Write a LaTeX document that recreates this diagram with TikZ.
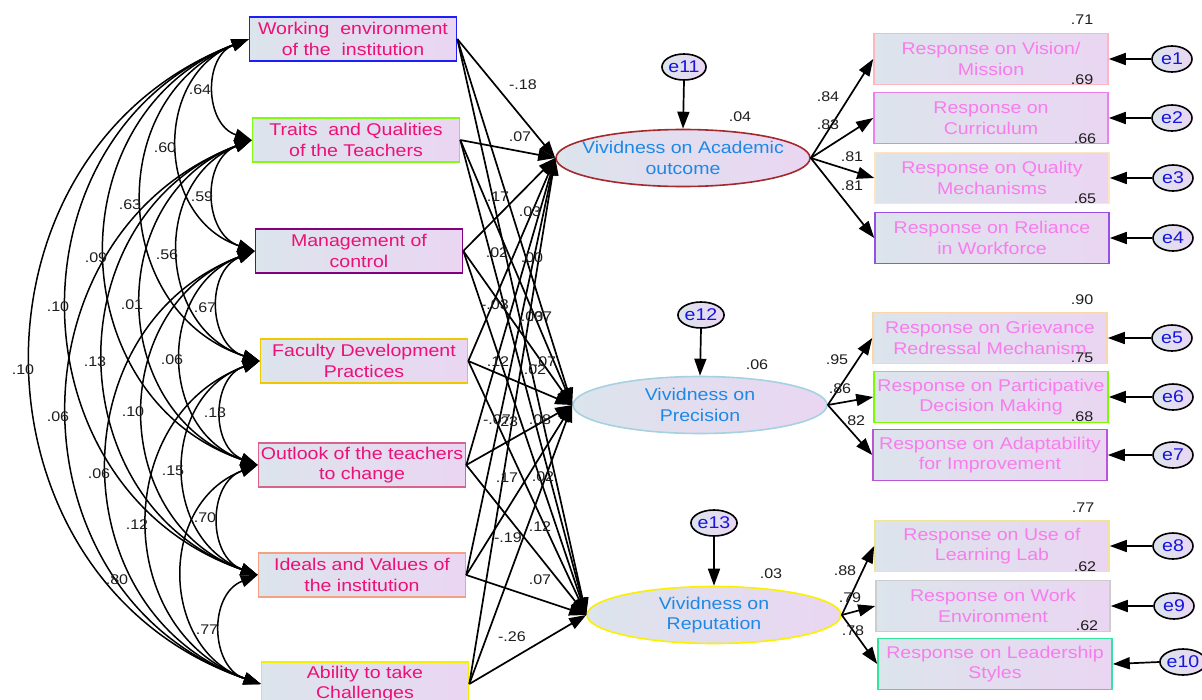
\documentclass[tikz,border=0pt]{standalone}
\usepackage{fontspec}
\setmainfont{Liberation Sans}[FakeStretch=1.15]
\usepackage{xcolor}
\usepackage{tikz}
\usetikzlibrary{arrows.meta,shapes.geometric}

\definecolor{boxL}{RGB}{220,228,236}
\definecolor{boxR}{RGB}{234,214,242}
\definecolor{obsTxt}{RGB}{236,16,120}
\definecolor{latTxt}{RGB}{30,136,229}
\definecolor{indTxt}{RGB}{248,124,236}
\definecolor{errTxt}{RGB}{20,20,220}
\definecolor{numTxt}{RGB}{30,30,30}
\definecolor{bWork}{RGB}{30,30,250}
\definecolor{bTrait}{RGB}{130,250,20}
\definecolor{bMan}{RGB}{128,0,128}
\definecolor{bFac}{RGB}{240,200,0}
\definecolor{bOut}{RGB}{215,100,140}
\definecolor{bIdl}{RGB}{245,160,130}
\definecolor{bAbl}{RGB}{245,240,0}
\definecolor{lAca}{RGB}{165,40,45}
\definecolor{lPre}{RGB}{165,210,225}
\definecolor{lRep}{RGB}{250,240,0}
\definecolor{iVis}{RGB}{255,182,193}
\definecolor{iCur}{RGB}{235,130,235}
\definecolor{iQua}{RGB}{255,228,196}
\definecolor{iRel}{RGB}{150,80,230}
\definecolor{iGri}{RGB}{250,215,170}
\definecolor{iPar}{RGB}{124,252,0}
\definecolor{iAda}{RGB}{186,85,211}
\definecolor{iLab}{RGB}{240,228,150}
\definecolor{iWor}{RGB}{205,205,205}
\definecolor{iLea}{RGB}{50,228,160}

\begin{document}
\begin{tikzpicture}[x=1pt, y=1pt,
      >={Triangle[length=17pt,width=12pt]},
      obs/.style={rectangle, draw=#1, line width=1.6pt, left color=boxL, right color=boxR,
        minimum width=207pt, minimum height=44pt, inner sep=0pt, align=center,
        text=obsTxt, font=\fontsize{17}{20.5}\selectfont},
      ind/.style={obs=#1, minimum width=234pt, minimum height=51pt, text=indTxt},
      lat/.style={ellipse, draw=#1, line width=1.6pt, left color=boxL, right color=boxR,
        minimum width=254pt, minimum height=57pt, inner sep=0pt},
      lattxt/.style={align=center, text=latTxt, font=\fontsize{17}{20.5}\selectfont},
      err/.style={ellipse, draw, line width=1.6pt, left color=boxL, right color=boxR,
        minimum width=40pt, minimum height=26pt, inner sep=0pt, text=errTxt,
        font=\fontsize{17}{17}\selectfont},
      num/.style={inner sep=0pt, text=numTxt, font=\fontsize{14}{14}\selectfont},
      pth/.style={line width=1.7pt, ->},
      cov/.style={line width=1.5pt, <->}
      ]
      \useasboundingbox (0,0) rectangle (1202,-699);
      \clip (0,0) rectangle (1202,-699);
      \fill[white] (0,0) rectangle (1202,-699);

      % exogenous variables
      \node[obs=bWork]  (w1) at (353,-39)  {Working~ environment\\of the~ institution};
      \node[obs=bTrait] (w2) at (356,-140) {Traits~ and Qualities\\of the Teachers};
      \node[obs=bMan]   (w3) at (359,-251) {Management of\\control};
      \node[obs=bFac]   (w4) at (364,-361) {Faculty Development\\Practices};
      \node[obs=bOut]   (w5) at (362,-465) {Outlook of the teachers\\to change};
      \node[obs=bIdl]   (w6) at (362,-575) {Ideals and Values of\\the institution};
      \node[obs=bAbl]   (w7) at (365,-684) {Ability to take\\Challenges};

      % latent variables
      \node[lat=lAca] (A) at (683,-158) {};
      \node[lat=lPre] (P) at (700,-405) {};
      \node[lat=lRep] (R) at (714,-615) {};
      \node[lattxt] (At) at (A.center) {Vividness on Academic\\outcome};
      \node[lattxt] (Pt) at (P.center) {Vividness on\\Precision};
      \node[lattxt] (Rt) at (R.center) {Vividness on\\Reputation};
      \node[err, minimum width=37pt] (e11) at (684,-67)  {e11};
      \node[err, minimum width=37pt] (e12) at (701,-315) {e12};
      \node[err, minimum width=37pt] (e13) at (714,-523) {e13};

      % indicators
      \node[ind=iVis] (r1)  at (991,-59)  {Response on Vision/\\Mission};
      \node[ind=iCur] (r2)  at (991,-118) {Response on\\Curriculum};
      \node[ind=iQua] (r3)  at (992,-178) {Response on Quality\\Mechanisms};
      \node[ind=iRel] (r4)  at (992,-238) {Response on Reliance\\in Workforce};
      \node[ind=iGri] (r5)  at (990,-338) {Response on Grievance\\Redressal Mechanism};
      \node[ind=iPar] (r6)  at (991,-397) {Response on Participative\\Decision Making};
      \node[ind=iAda] (r7)  at (990,-455) {Response on Adaptability\\for Improvement};
      \node[ind=iLab] (r8)  at (992,-546) {Response on Use of\\Learning Lab};
      \node[ind=iWor] (r9)  at (993,-606) {Response on Work\\Environment};
      \node[ind=iLea] (r10) at (995,-664) {Response on Leadership\\Styles};
      \foreach \i/\x/\y in {1/1172/59, 2/1172/118, 3/1173/178, 4/1173/238, 5/1172/338,
          6/1173/397, 7/1173/455, 8/1173/546, 9/1174/606, 10/1183/662}
        \node[err] (e\i) at (\x,-\y) {e\i};

      % arrows
      \foreach \i in {1,...,10} \draw[pth] (e\i.west) -- (r\i.east);
      \foreach \e/\l in {e11/A, e12/P, e13/R} \draw[pth] (\e.south) -- (\l.north);
      \foreach \i in {1,...,4} \draw[pth] (A.east) -- (r\i.west);
      \foreach \i in {5,6,7} \draw[pth] (P.east) -- (r\i.west);
      \foreach \i in {8,9,10} \draw[pth] (R.east) -- (r\i.west);
      \foreach \s in {1,...,7} \foreach \t in {A,P,R} \draw[pth] (w\s.east) -- (\t.west);
      \foreach \i [evaluate=\i as \k using int(\i+1)] in {1,...,6}
        \foreach \j in {\k,...,7}
          \draw[cov] (w\i.west) to[bend right=70, looseness=1.25] (w\j.west);

      % estimates
      \foreach \x/\y/\v [count=\n] in {740/117/.04, 757/365/.06, 771/574/.03,
          1082/20/.71, 1082/80/.69, 1085/139/.66, 1085/199/.65, 1082/300/.90,
          1082/358/.75, 1082/417/.68, 1083/508/.77, 1085/567/.62, 1087/626/.62,
          828/97/.84, 828/125/.83, 852/157/.81, 852/186/.81, 837/360/.95,
          840/389/.86, 854/421/.82, 845/571/.88, 850/598/.79, 853/631/.78}
        \node[num] (n\n) at (\x,-\y) {\v};
      \foreach \x/\y/\v [count=\n] in {523/85/-.18, 520/137/.07, 498/197/.17,
          530/212/.03, 497/253/.02, 532/258/.00, 495/305/-.03, 532/317/.03,
          541/317/.07, 498/362/.12, 545/362/.07, 535/370/.02, 497/420/-.07,
          507/422/.23, 540/420/.08, 507/478/.17, 543/477/.02, 540/527/.12,
          508/538/-.19, 540/580/.07, 512/637/-.26}
        \node[num] (s\n) at (\x,-\y) {\v};
      \foreach \x/\y/\v [count=\n] in {200/90/.64, 165/148/.60, 202/197/.59,
          130/205/.63, 96/258/.09, 167/255/.56, 58/307/.10, 132/305/.01,
          205/308/.67, 23/370/.10, 95/362/.13, 172/360/.06, 58/417/.06,
          133/412/.10, 215/413/.13, 99/474/.06, 173/471/.15, 137/525/.12,
          205/518/.70, 117/580/.80, 207/630/.77}
        \node[num] (c\n) at (\x,-\y) {\v};
    \end{tikzpicture}
\end{document}
